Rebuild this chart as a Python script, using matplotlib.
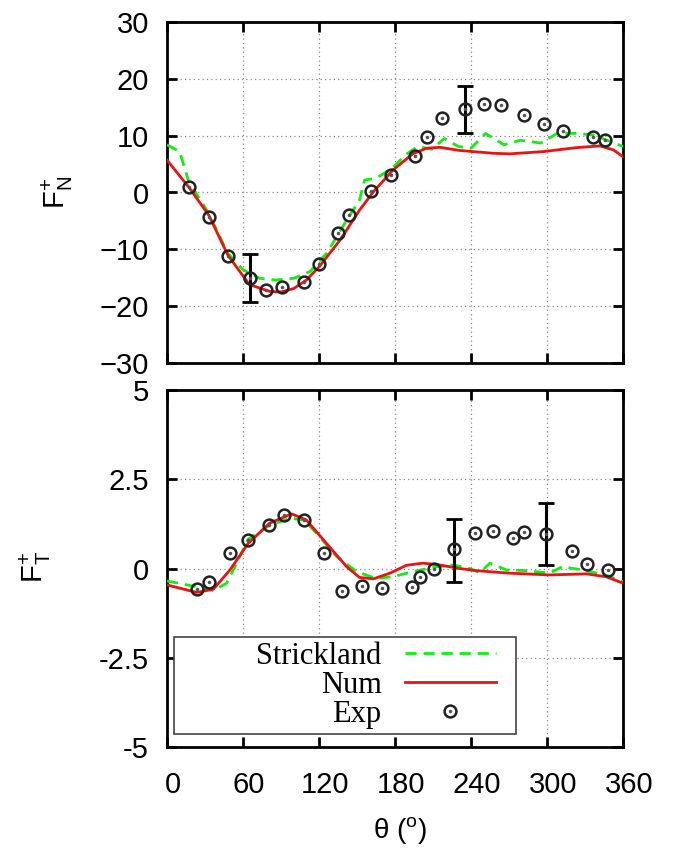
import matplotlib
matplotlib.use("Agg")
import matplotlib.pyplot as plt
from matplotlib.patches import Rectangle
from matplotlib.legend_handler import HandlerTuple
import matplotlib.transforms as mtransforms

plt.rcParams['font.family'] = ['Liberation Sans', 'DejaVu Sans']
plt.rcParams['mathtext.default'] = 'regular'

# ---------------- data: normal force ----------------
exp_n_theta = [17, 33, 48, 65.5, 78, 91, 108, 120, 135, 144, 161, 176.5, 196, 205,
               217, 235.5, 250, 264, 282, 298, 313, 336.5, 346]
exp_n_val = [1.0, -4.3, -11.2, -15.1, -17.2, -16.7, -15.8, -12.5, -7.1, -4.0, 0.2, 3.1,
             6.5, 9.8, 13.1, 14.7, 15.5, 15.4, 13.6, 12.1, 10.8, 9.8, 9.2]
err_n_theta = [65.5, 235.5]
err_n_val = [-15.05, 14.6]
err_n_half = [4.15, 4.1]

num_n_theta = [0, 17, 33, 48, 65, 81, 90, 100, 110, 120, 136.5, 152, 163, 178.6, 194,
               205, 215.5, 231, 257.7, 270.7, 297, 323.5, 341.8, 352.4, 360]
num_n_val = [5.7, 1.0, -4.0, -11.0, -16.2, -17.4, -17.5, -16.9, -15.4, -13.1, -8.4,
             -3.1, 0.15, 4.0, 6.8, 7.8, 7.95, 7.4, 6.9, 6.8, 7.2, 7.9, 8.2, 7.5, 6.3]

str_n_theta = [0, 10, 17, 33, 48, 60, 73, 86, 100, 113, 126, 142, 152, 156, 165, 178,
               188, 198, 209, 219, 230, 240, 251.5, 266, 279, 295, 308, 324, 337, 360]
str_n_val = [8.4, 7.2, 2.0, -3.7, -10.7, -13.6, -15.1, -15.4, -15.1, -13.9, -10.7,
             -4.8, -1.3, 2.2, 2.5, 4.3, 6.6, 8.1, 7.6, 9.5, 8.1, 7.8, 10.4, 8.4, 9.2,
             8.7, 10.4, 10.4, 10.1, 8.1]

# ---------------- data: tangential force ----------------
exp_t_theta = [23.4, 33.4, 49.7, 64.2, 80.8, 92.6, 108, 124, 138.4, 154, 169.7, 193.4,
               199.7, 210.7, 226.3, 242.8, 257, 272.8, 282, 298.9, 320, 331.3, 348.4]
exp_t_val = [-0.58, -0.39, 0.43, 0.8, 1.21, 1.5, 1.35, 0.44, -0.62, -0.49, -0.56, -0.53,
             -0.24, 0.0, 0.55, 0.99, 1.06, 0.85, 1.03, 0.97, 0.49, 0.13, -0.05]
err_t_theta = [226.3, 298.9]
err_t_val = [0.5, 0.97]
err_t_half = [0.88, 0.87]

num_t_theta = [0, 23.4, 36.6, 49.7, 64, 81, 98.4, 110, 126, 141.8, 152, 163, 176, 189,
               202, 215, 231, 244, 270, 302, 331, 346.6, 360]
num_t_val = [-0.46, -0.67, -0.58, -0.04, 0.7, 1.27, 1.53, 1.36, 0.7, 0.05, -0.25, -0.29,
             -0.13, 0.09, 0.15, 0.1, 0.0, -0.06, -0.13, -0.18, -0.15, -0.23, -0.41]

str_t_theta = [0, 23, 36.6, 47, 55, 64, 81, 97, 108, 118, 134, 150, 165, 178, 194, 210,
               226, 239, 247, 255, 268, 284, 302, 312, 328, 346, 360]
str_t_val = [-0.35, -0.51, -0.62, -0.41, 0.15, 0.82, 1.21, 1.41, 1.36, 0.99, 0.33, -0.09,
             -0.28, -0.23, -0.09, 0.03, 0.1, 0.0, -0.12, 0.15, -0.04, -0.06, -0.13, 0.05,
             -0.04, -0.18, -0.37]

x_ticks = [0, 60, 120, 180, 240, 300, 360]
yn_ticks = [-30, -20, -10, 0, 10, 20, 30]
yt_ticks = [-5, -2.5, 0, 2.5, 5]
yt_labels = ['-5', '-2.5', '0', '2.5', '5']

fig = plt.figure(figsize=(6.75, 8.55), dpi=100)
W, H = 675, 855
ax1 = fig.add_axes([167 / W, 1 - 363 / H, 456 / W, 341 / H])
ax2 = fig.add_axes([167 / W, 1 - 747 / H, 456 / W, 357 / H])

GREEN = '#11ee11'
RED = '#ee1111'

def style(ax):
    ax.set_xlim(0, 360)
    ax.set_xticks(x_ticks)
    ax.grid(True, color='#888888', linestyle=(0, (1, 2.5)), linewidth=0.9)
    ax.tick_params(direction='in', length=7, width=2, top=True, right=True,
                   labelsize=21, pad=13, colors='black')
    ax.tick_params(axis='x', pad=17)
    for s in ax.spines.values():
        s.set_linewidth(2)

def draw(ax, st, sv, nt, nv, et, ev, rt, rv, rh):
    hs, = ax.plot(st, sv, color=GREEN, lw=2, linestyle=(0, (4, 2.5)), zorder=3)
    hn, = ax.plot(nt, nv, color=RED, lw=2, zorder=4)
    ax.errorbar(rt, rv, yerr=rh, fmt='none', ecolor='black', elinewidth=2.2,
                capsize=6, capthick=2, zorder=5)
    he1, = ax.plot(et, ev, linestyle='none', marker='o', markersize=8.5,
                   markerfacecolor='none', markeredgecolor='#222222',
                   markeredgewidth=1.8, zorder=6)
    he2, = ax.plot(et, ev, linestyle='none', marker='o', markersize=1.5,
                   markerfacecolor='#555555', markeredgecolor='#555555', zorder=6)
    return hs, hn, (he1, he2)

style(ax1)
draw(ax1, str_n_theta, str_n_val, num_n_theta, num_n_val, exp_n_theta, exp_n_val,
     err_n_theta, err_n_val, err_n_half)
ax1.set_ylim(-30, 30)
ax1.set_yticks(yn_ticks)
ax1.tick_params(labelbottom=False)

style(ax2)
hs, hn, he = draw(ax2, str_t_theta, str_t_val, num_t_theta, num_t_val, exp_t_theta,
                  exp_t_val, err_t_theta, err_t_val, err_t_half)
ax2.set_ylim(-5, 5)
ax2.set_yticks(yt_ticks)
ax2.set_yticklabels(yt_labels)

# shift x tick labels slightly right as in the reference
offset = mtransforms.ScaledTranslation(6 / 100, 0, fig.dpi_scale_trans)
for lab in ax2.get_xticklabels():
    lab.set_transform(lab.get_transform() + offset)

# legend box
ax2.add_patch(Rectangle((0.015, 0.036), 0.75, 0.272, transform=ax2.transAxes,
                        facecolor='white', edgecolor='#444444', lw=1.2, zorder=7))
leg = ax2.legend([hs, hn, he], ['Strickland', 'Num', 'Exp'],
                 handler_map={tuple: HandlerTuple(ndivide=1)},
                 loc='center right', bbox_to_anchor=(0.722, 0.172),
                 markerfirst=False, frameon=False, borderpad=0, borderaxespad=0,
                 handlelength=3.0, handletextpad=0.75, labelspacing=0.0,
                 prop={'family': 'Liberation Serif', 'size': 22})
leg.set_zorder(8)

fig.text(57 / W, 1 - 192 / H, r'F$^{+}_{N}$', rotation=90, ha='center', va='center',
         fontsize=21)
fig.text(35 / W, 1 - 567 / H, r'F$^{+}_{T}$', rotation=90, ha='center', va='center',
         fontsize=21)
fig.text(400 / W, 1 - 830 / H, r'θ ($^{o}$)', ha='center', va='center', fontsize=20)

fig.savefig('out.png', dpi=100)
